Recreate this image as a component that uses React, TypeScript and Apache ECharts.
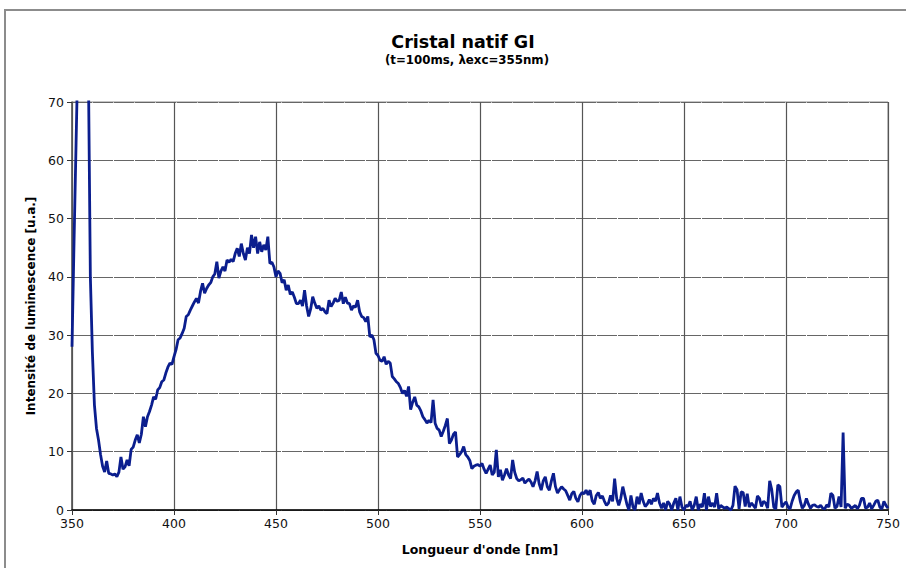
import React, { useEffect, useRef } from "react";
import * as echarts from "echarts";

const TITLE = "Cristal natif GI";
const SUBTITLE = "(t=100ms, λexc=355nm)";
const X_NAME = "Longueur d'onde [nm]";
const Y_NAME = "Intensité de luminescence [u.a.]";

const X_MIN = 350;
const X_MAX = 750;
const X_STEP = 50;
const Y_MIN = 0;
const Y_MAX = 70;
const Y_STEP = 10;

// wavelength of first sample and sampling step (nm)
const START_NM = 350;
const STEP_NM = 1;

// intensities, one per nm from 350 to 750
const intensity350to399 = [
  28, 46, 63, 80, 120, 150, 140, 110, 77, 40,
  27, 18, 14, 12, 9.5, 7.5, 6.5, 8.4, 6.3, 6.2,
  6.0, 6.2, 5.7, 6.5, 9.1, 7.0, 7.4, 8.6, 7.6, 10.4,
  10.8, 12.0, 12.9, 11.5, 13.0, 16.0, 14.3, 16.0, 16.9, 18.0,
  19.4, 19.0, 20.6, 21.0, 22.0, 22.3, 23.5, 24.5, 25.2, 25.0,
];
const intensity400to449 = [
  26.3, 27.5, 29.2, 29.5, 30.3, 31.2, 33.2, 33.5, 34.3, 35.0,
  35.7, 36.3, 35.5, 37.5, 38.9, 37.2, 38.0, 38.6, 39.0, 40.0,
  40.5, 42.6, 39.8, 41.0, 41.7, 41.0, 42.9, 42.5, 43.0, 42.6,
  44.0, 44.9, 43.5, 45.7, 44.0, 42.9, 45.0, 44.0, 47.2, 45.0,
  46.9, 44.0, 46.0, 44.3, 45.5, 44.6, 46.9, 42.3, 42.5, 41.7,
];
const intensity450to499 = [
  40.0, 41.0, 40.6, 39.0, 39.5, 37.7, 38.6, 37.0, 37.4, 36.5,
  35.4, 35.4, 36.0, 35.0, 37.7, 35.0, 33.2, 34.5, 36.6, 35.5,
  34.6, 35.0, 34.3, 34.6, 34.0, 33.7, 36.0, 34.9, 35.5, 36.3,
  35.8, 36.0, 37.4, 35.4, 36.5, 35.5, 35.4, 34.3, 35.0, 34.8,
  36.0, 34.0, 33.2, 33.0, 32.3, 33.2, 29.7, 30.0, 29.2, 26.9,
];
const intensity500to549 = [
  26.5, 25.7, 25.5, 26.3, 25.0, 25.5, 25.2, 22.9, 22.5, 22.0,
  21.7, 21.0, 20.0, 20.5, 19.5, 21.2, 17.2, 18.5, 19.4, 18.0,
  17.7, 17.0, 16.0, 15.5, 14.9, 15.4, 15.0, 18.9, 14.9, 14.0,
  13.7, 12.6, 13.5, 14.5, 15.7, 11.4, 12.0, 13.0, 13.4, 9.1,
  9.5, 10.0, 10.9, 9.5, 9.1, 8.5, 7.1, 7.5, 7.7, 7.8,
];
const intensity550to599 = [
  7.5, 8.0, 7.0, 6.3, 7.0, 7.7, 6.0, 6.5, 10.3, 5.7,
  6.9, 5.1, 6.0, 7.1, 6.0, 5.4, 8.6, 6.5, 5.4, 5.0,
  5.2, 5.5, 4.6, 5.0, 5.3, 4.8, 4.0, 5.0, 6.6, 4.5,
  3.4, 5.0, 5.7, 4.0, 3.4, 5.0, 6.3, 4.0, 2.9, 3.5,
  4.0, 3.6, 3.3, 2.5, 1.7, 2.8, 3.2, 2.0, 1.4, 2.5,
];
const intensity600to649 = [
  3.0, 2.8, 3.4, 2.6, 3.4, 1.6, 1.0, 2.5, 3.0, 2.0,
  2.4, 1.5, 0.8, 1.2, 2.5, 1.5, 5.4, 2.0, 0.8, 2.0,
  4.0, 2.5, 1.0, 0.0, 2.5, 0.5, 0.0, 2.3, 1.0, 2.9,
  1.5, 0.6, 1.0, 1.8, 1.0, 2.0, 1.5, 2.9, 1.2, 0.3,
  1.2, 0.0, 1.5, 1.0, 0.0, 1.2, 2.0, 0.0, 2.3, 0.5,
];
const intensity650to699 = [
  0.0, 0.8, 0.6, 1.5, 0.0, 0.8, 2.3, 0.0, 1.0, 0.5,
  2.9, 0.0, 2.3, 0.6, 1.2, 0.5, 2.9, 0.2, 0.8, 0.5,
  0.3, 0.5, 0.2, 0.0, 0.8, 4.1, 3.5, 0.2, 3.1, 3.0,
  0.6, 2.8, 0.5, 1.2, 0.8, 0.3, 2.4, 2.0, 0.6, 1.5,
  1.2, 0.3, 5.0, 3.5, 0.5, 0.2, 4.3, 4.0, 0.5, 1.0,
];
const intensity700to750 = [
  1.4, 0.5, 0.2, 1.5, 2.5, 3.1, 3.4, 1.5, 0.3, 0.8,
  2.0, 1.0, 0.3, 0.8, 0.9, 0.6, 0.5, 0.8, 0.3, 0.2,
  0.9, 0.5, 2.9, 2.5, 0.3, 0.6, 2.3, 0.5, 13.3, 0.3,
  1.0, 0.8, 0.3, 0.5, 0.8, 0.2, 0.8, 2.0, 2.0, 0.3,
  0.5, 1.2, 0.2, 0.8, 1.5, 1.7, 0.5, 0.2, 1.5, 0.8,
  0.3,
];

const intensity = [
  ...intensity350to399,
  ...intensity400to449,
  ...intensity450to499,
  ...intensity500to549,
  ...intensity550to599,
  ...intensity600to649,
  ...intensity650to699,
  ...intensity700to750,
];

const FONT = "DejaVu Sans";

export default function App() {
  const ref = useRef<HTMLDivElement>(null);

  useEffect(() => {
    if (!ref.current) return;
    const chart = echarts.init(ref.current, null, { renderer: "svg" });
    const data = intensity.map((v, i) => [START_NM + i * STEP_NM, v]);

    chart.setOption({
      animation: false,
      backgroundColor: "#ffffff",
      textStyle: { fontFamily: FONT },
      grid: {
        left: 72,
        right: 18,
        top: 102,
        bottom: 58,
        show: true,
        borderColor: "#8a8a8a",
        borderWidth: 1,
      },
      graphic: [
        {
          type: "rect",
          shape: { x: 5, y: 10, width: 1000, height: 700 },
          style: { fill: "none", stroke: "#8c8c8c", lineWidth: 2 },
          silent: true,
        },
        {
          type: "text",
          x: 463,
          y: 42,
          style: {
            text: TITLE,
            font: `bold 17.5px '${FONT}'`,
            fill: "#000",
            textAlign: "center",
            textVerticalAlign: "middle",
          },
        },
        {
          type: "text",
          x: 467,
          y: 60,
          style: {
            text: SUBTITLE,
            font: `bold 11.8px '${FONT}'`,
            fill: "#000",
            textAlign: "center",
            textVerticalAlign: "middle",
          },
        },
      ],
      xAxis: {
        type: "value",
        min: X_MIN,
        max: X_MAX,
        interval: X_STEP,
        name: X_NAME,
        nameLocation: "middle",
        nameGap: 33,
        nameTextStyle: { fontFamily: FONT, fontWeight: "bold", fontSize: 12.5, color: "#000" },
        axisLine: { show: true, onZero: false, lineStyle: { color: "#000", width: 1.5 } },
        axisTick: { show: true, length: 5, lineStyle: { color: "#333" } },
        axisLabel: { fontFamily: FONT, fontSize: 12.5, color: "#111", margin: 7 },
        splitLine: { show: true, lineStyle: { color: "#555", width: 1.2 } },
      },
      yAxis: {
        type: "value",
        min: Y_MIN,
        max: Y_MAX,
        interval: Y_STEP,
        name: Y_NAME,
        nameLocation: "middle",
        nameGap: 33,
        nameTextStyle: { fontFamily: FONT, fontWeight: "bold", fontSize: 12, color: "#000" },
        axisLine: { show: true, lineStyle: { color: "#555", width: 1.5 } },
        axisTick: { show: true, length: 5, lineStyle: { color: "#333" } },
        axisLabel: { fontFamily: FONT, fontSize: 12.5, color: "#111", margin: 8 },
        splitLine: { show: true, lineStyle: { color: "#666", width: 1.2, type: [20, 1] } },
      },
      series: [
        {
          type: "line",
          data,
          showSymbol: false,
          symbol: "none",
          clip: true,
          lineStyle: { color: "#0b1e8e", width: 2.8 },
          z: 5,
        },
      ],
    });

    return () => chart.dispose();
  }, []);

  return (
    <div
      ref={ref}
      style={{ position: "fixed", left: 0, top: 0, width: 906, height: 568 }}
    />
  );
}
